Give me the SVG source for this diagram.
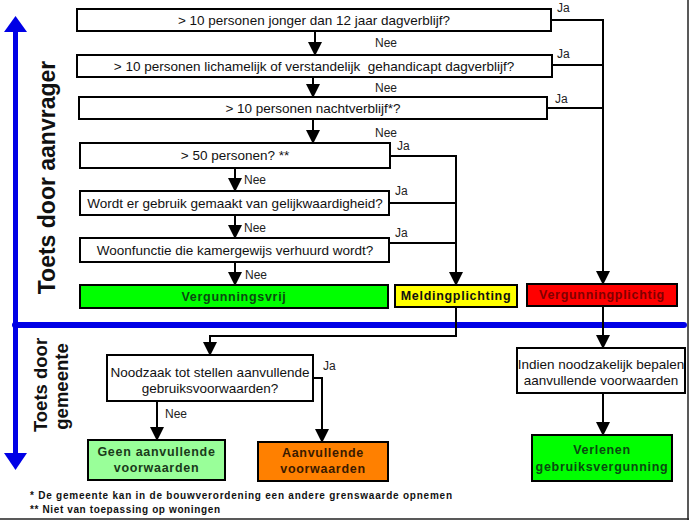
<svg xmlns="http://www.w3.org/2000/svg" width="689" height="520" viewBox="0 0 689 520">
<defs>
<marker id="ah" markerUnits="userSpaceOnUse" markerWidth="14" markerHeight="14" viewBox="0 0 14 14" refX="13" refY="7" orient="auto">
<path d="M0,0 L14,7 L0,14 Z" fill="#000"/>
</marker>
</defs>
<style>
.box{fill:#fff;stroke:#000;stroke-width:2}
.t{font-family:"Liberation Sans",Arial,sans-serif;font-size:13.5px;fill:#111;text-anchor:middle;dominant-baseline:central}
.lbl{font-family:"Liberation Sans",Arial,sans-serif;font-size:12px;fill:#222}
.b{font-family:"Liberation Sans",Arial,sans-serif;font-weight:bold;font-size:12.5px;text-anchor:middle;dominant-baseline:central;letter-spacing:0.7px}
.c{fill:none;stroke:#000;stroke-width:2}
.side{font-family:"Liberation Sans",Arial,sans-serif;font-weight:bold;fill:#111;text-anchor:middle}
.fn{font-family:"Liberation Sans",Arial,sans-serif;font-weight:bold;font-size:10px;fill:#111}
</style>
<rect width="689" height="520" fill="#fff"/>
<line x1="688" y1="0" x2="688" y2="520" stroke="#222" stroke-width="1.5"/>
<line x1="0" y1="519" x2="689" y2="519" stroke="#222" stroke-width="1.5"/>

<g id="axis">
<line x1="15.5" y1="30" x2="15.5" y2="456" stroke="#0000e6" stroke-width="5"/>
<path d="M4,32 L27,32 L15.5,16 Z" fill="#0000e6"/>
<path d="M4,453 L27,453 L15.5,470 Z" fill="#0000e6"/>
<line x1="15" y1="325" x2="684" y2="325" stroke="#0000e6" stroke-width="6" stroke-linecap="round"/>
<text class="side" font-size="23" transform="translate(55,177.5) rotate(-90)">Toets door aanvrager</text>
<text class="side" font-size="18.5" transform="translate(47,385) rotate(-90)">Toets door</text>
<text class="side" font-size="18.5" transform="translate(68,386.5) rotate(-90)">gemeente</text>
</g>

<g id="connectors">
<line class="c" x1="315" y1="31" x2="315" y2="55" marker-end="url(#ah)"/>
<line class="c" x1="313" y1="77" x2="313" y2="97" marker-end="url(#ah)"/>
<line class="c" x1="313" y1="119" x2="313" y2="143" marker-end="url(#ah)"/>
<line class="c" x1="235" y1="168" x2="235" y2="191" marker-end="url(#ah)"/>
<line class="c" x1="235" y1="215" x2="235" y2="238" marker-end="url(#ah)"/>
<line class="c" x1="235" y1="262" x2="235" y2="285" marker-end="url(#ah)"/>
<polyline class="c" points="551,20 603,20 603,284" marker-end="url(#ah)"/>
<line class="c" x1="552" y1="65" x2="603" y2="65"/>
<line class="c" x1="547" y1="108" x2="603" y2="108"/>
<polyline class="c" points="390,156 456,156 456,285" marker-end="url(#ah)"/>
<line class="c" x1="389" y1="203" x2="456" y2="203"/>
<line class="c" x1="389" y1="243" x2="456" y2="243"/>
<polyline class="c" points="456,307 456,336 210,336 210,355" marker-end="url(#ah)"/>
<line class="c" x1="603" y1="306" x2="603" y2="348" marker-end="url(#ah)"/>
<line class="c" x1="603" y1="393" x2="603" y2="435" marker-end="url(#ah)"/>
<line class="c" x1="157" y1="401" x2="157" y2="440" marker-end="url(#ah)"/>
<polyline class="c" points="313,378 322,378 322,442" marker-end="url(#ah)"/>
<text class="lbl" x="375" y="47">Nee</text>
<text class="lbl" x="375" y="92">Nee</text>
<text class="lbl" x="375" y="137">Nee</text>
<text class="lbl" x="557" y="12">Ja</text>
<text class="lbl" x="557" y="58">Ja</text>
<text class="lbl" x="555" y="103">Ja</text>
<text class="lbl" x="397" y="150">Ja</text>
<text class="lbl" x="395" y="195">Ja</text>
<text class="lbl" x="395" y="237">Ja</text>
<text class="lbl" x="244" y="184">Nee</text>
<text class="lbl" x="244" y="232">Nee</text>
<text class="lbl" x="245" y="279">Nee</text>
<text class="lbl" x="165" y="418">Nee</text>
<text class="lbl" x="323" y="370">Ja</text>
</g>

<g id="q1"><rect class="box" x="77" y="9" width="474" height="22"/><text class="t" x="314" y="20">&gt; 10 personen jonger dan 12 jaar dagverblijf?</text></g>
<g id="q2"><rect class="box" x="77" y="55" width="475" height="22"/><text class="t" x="314" y="66">&gt; 10 personen lichamelijk of verstandelijk&#160; gehandicapt dagverblijf?</text></g>
<g id="q3"><rect class="box" x="79" y="97" width="468" height="22"/><text class="t" x="313" y="108">&gt; 10 personen nachtverblijf*?</text></g>
<g id="q4"><rect class="box" x="80" y="143" width="310" height="25"/><text class="t" x="235" y="155.5">&gt; 50 personen? **</text></g>
<g id="q5"><rect class="box" x="80" y="191" width="309" height="24"/><text class="t" x="235" y="203">Wordt er gebruik gemaakt van gelijkwaardigheid?</text></g>
<g id="q6"><rect class="box" x="80" y="238" width="309" height="24"/><text class="t" x="235" y="250">Woonfunctie die kamergewijs verhuurd wordt?</text></g>

<g id="vrij"><rect x="80" y="285" width="308" height="23" fill="#00ff00" stroke="#000" stroke-width="2"/><text class="b" x="234" y="297" fill="#0a4a10">Vergunningsvrij</text></g>
<g id="melding"><rect x="395" y="285" width="122" height="22" fill="#ffff00" stroke="#000" stroke-width="2"/><text class="b" x="456" y="296" fill="#111">Meldingplichting</text></g>
<g id="plichtig"><rect x="527" y="284" width="150" height="22" fill="#ff0000" stroke="#000" stroke-width="2"/><text class="b" x="602" y="295" fill="#800000">Vergunningplichtig</text></g>

<g id="noodzaak"><rect class="box" x="107" y="355" width="206" height="46"/><text class="t" x="210" y="372" font-size="13">Noodzaak tot stellen aanvullende</text><text class="t" x="210" y="388" font-size="13">gebruiksvoorwaarden?</text></g>
<g id="geen"><rect x="88" y="440" width="137" height="40" fill="#99ff99" stroke="#000" stroke-width="2"/><text class="b" x="156.5" y="452" fill="#1a3a1a" font-size="13.5">Geen aanvullende</text><text class="b" x="156.5" y="468" fill="#1a3a1a" font-size="13.5">voorwaarden</text></g>
<g id="aanvullend"><rect x="258" y="442" width="130" height="39" fill="#ff8000" stroke="#000" stroke-width="2"/><text class="b" x="323" y="453" fill="#3a1a00" font-size="13.5">Aanvullende</text><text class="b" x="323" y="469" fill="#3a1a00" font-size="13.5">voorwaarden</text></g>
<g id="indien"><rect class="box" x="517" y="348" width="168" height="45"/><text class="t" x="601" y="364" font-size="13">Indien noodzakelijk bepalen</text><text class="t" x="601" y="380" font-size="13">aanvullende voorwaarden</text></g>
<g id="verlenen"><rect x="532" y="435" width="140" height="46" fill="#00ff00" stroke="#000" stroke-width="2"/><text class="b" x="602" y="450" fill="#0a4a10">Verlenen</text><text class="b" x="602" y="467" fill="#0a4a10">gebruiksvergunning</text></g>

<g id="footnotes">
<text class="fn" x="30" y="499" textLength="422" lengthAdjust="spacing">* De gemeente kan in de bouwverordening een andere grenswaarde opnemen</text>
<text class="fn" x="30" y="513" textLength="190" lengthAdjust="spacing">** Niet van toepassing op woningen</text>
</g>
</svg>
